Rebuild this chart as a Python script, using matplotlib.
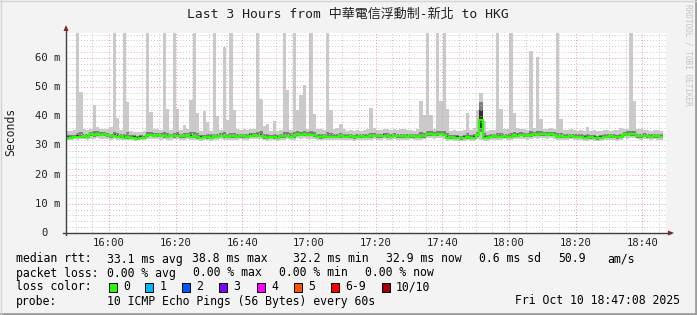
import numpy as np
import matplotlib.pyplot as plt
from matplotlib.lines import Line2D
from matplotlib.patches import Polygon, Rectangle

# ---- data (ms), one value per 60 s step starting 15:47:08 ----
med = [32.7,32.6,32.8,33.0,32.9,33.2,33.0,33.8,33.6,33.9,33.7,33.8,33.5,33.1,33.3,33.0,33.2,32.7,32.8,32.6,
       32.7,32.2,32.7,32.6,33.5,33.7,33.4,33.5,33.3,33.2,33.0,33.3,33.2,33.4,33.1,33.2,33.5,33.0,33.2,32.8,
       32.7,32.9,32.8,32.6,33.1,33.0,33.3,33.1,32.9,33.2,33.1,33.0,33.2,33.1,32.9,33.4,33.5,33.3,33.4,32.8,
       32.6,32.9,32.8,32.7,33.2,33.1,33.3,33.0,33.2,33.8,33.6,33.9,33.7,33.6,33.5,33.0,32.8,33.1,33.0,32.9,
       33.0,33.0,33.2,32.9,33.0,33.1,32.8,33.0,33.1,32.9,33.0,33.2,33.3,33.1,33.2,33.4,33.2,33.0,33.3,33.2,
       33.1,33.1,33.0,33.2,33.1,32.9,33.1,33.2,33.8,33.9,33.7,33.8,34.0,33.7,32.7,32.8,32.6,32.7,32.5,32.7,
       32.8,32.6,32.7,33.5,38.8,32.7,32.6,33.0,33.1,32.9,33.0,33.2,33.0,32.9,33.5,33.4,33.6,33.5,33.3,33.5,
       33.8,33.7,33.9,33.8,33.6,33.8,33.7,33.0,33.1,32.9,33.0,33.2,33.0,32.9,33.0,32.7,32.6,32.8,32.7,32.5,
       32.7,33.0,32.9,33.1,33.0,32.8,33.0,33.8,33.7,33.9,33.8,33.2,33.1,33.3,33.2,33.0,33.2,33.1,32.9]

ping_max = [34.8,35.0,35.2,75,48.3,35.6,35.4,35.8,43.9,36.2,35.6,35.8,35.5,36.5,75,39.5,35.2,75,45.0,34.8,
            34.6,34.7,34.5,35.0,75,41.6,35.8,35.6,35.4,75,42.5,35.3,75,42.5,35.2,37.0,35.5,45.6,75,41.2,
            35.0,41.9,38.2,35.0,75,40.1,35.4,63.9,38.9,75,42.2,35.5,35.3,35.6,35.2,35.5,35.7,75,45.9,36.6,
            37.3,35.0,38.4,35.0,35.3,75,49.0,35.4,75,42.2,47.3,50.7,35.8,75,40.8,35.8,35.6,35.2,75,42.2,
            35.8,36.0,37.3,35.6,35.0,35.2,35.0,35.3,35.1,35.4,35.6,42.9,36.0,35.4,35.2,35.6,35.5,35.2,35.6,35.4,
            35.5,35.5,35.2,35.3,35.1,35.6,45.4,40.6,75,40.3,35.8,75,45.4,75,42.6,35.0,35.2,34.8,35.0,35.2,
            41.1,35.4,36.0,42.1,48.0,38.4,35.0,35.3,35.4,75,42.4,35.6,35.5,75,41.1,36.0,35.8,35.6,35.4,62.5,
            36.0,60.3,39.2,35.8,35.6,36.0,35.5,75,39.0,35.4,35.3,35.5,35.2,35.0,35.2,35.0,36.3,35.0,35.2,34.8,
            35.0,35.2,35.2,35.0,35.3,35.4,36.0,35.5,35.8,75,45.4,35.5,35.6,35.2,35.3,35.0,35.4,35.2,34.9]

ping_min = [32.0,31.9,32.1,32.0,32.2,32.1,32.0,32.3,32.2,32.4,32.3,32.2,32.1,32.0,32.1,31.9,32.0,31.8,31.9,31.8,
            31.7,31.8,31.9,31.8,32.2,32.3,32.1,32.2,32.0,32.1,31.9,32.0,32.2,32.1,32.0,31.9,32.2,31.8,32.0,31.8,
            31.7,31.9,31.8,31.7,32.0,31.9,32.1,32.0,31.8,32.0,32.0,31.9,32.1,32.0,31.8,32.2,32.3,32.1,32.2,31.8,
            31.7,31.9,31.8,31.7,32.0,32.0,32.1,31.9,32.0,32.4,32.3,32.5,32.3,32.2,32.2,31.9,31.8,32.0,31.9,31.8,
            31.9,31.9,32.0,31.8,31.9,32.0,31.7,31.9,32.0,31.8,31.9,32.0,32.1,32.0,32.0,32.2,32.0,31.9,32.1,32.0,
            32.0,32.0,31.9,32.1,32.0,31.8,32.0,32.1,32.4,32.5,32.3,32.4,32.6,32.3,31.7,31.8,31.6,31.7,31.5,31.7,
            31.8,31.6,31.7,32.2,32.0,31.7,31.6,31.9,32.0,31.8,31.9,32.1,31.9,31.8,32.2,32.1,32.3,32.2,32.0,32.2,
            32.4,32.3,32.5,32.4,32.2,32.4,32.3,31.9,32.0,31.8,31.9,32.1,31.9,31.8,31.9,31.7,31.6,31.8,31.7,31.5,
            31.7,31.9,31.8,32.0,31.9,31.7,31.9,32.4,32.3,32.5,32.4,32.1,32.0,32.2,32.1,31.9,32.1,32.0,31.8]

ping_q1 = [32.3,32.2,32.4,32.5,32.4,32.7,32.5,33.2,33.0,33.3,33.1,33.2,32.9,32.6,32.8,32.5,32.7,32.2,32.3,32.1,
           32.2,32.0,32.2,32.1,33.0,33.1,32.9,33.0,32.8,32.7,32.5,32.8,32.7,32.9,32.6,32.7,33.0,32.5,32.7,32.3,
           32.2,32.4,32.3,32.1,32.6,32.5,32.8,32.6,32.4,32.7,32.6,32.5,32.7,32.6,32.4,32.9,33.0,32.8,32.9,32.3,
           32.1,32.4,32.3,32.2,32.7,32.6,32.8,32.5,32.7,33.3,33.1,33.4,33.2,33.1,33.0,32.5,32.3,32.6,32.5,32.4,
           32.5,32.5,32.7,32.4,32.5,32.6,32.3,32.5,32.6,32.4,32.5,32.7,32.8,32.6,32.7,32.9,32.7,32.5,32.8,32.7,
           32.6,32.6,32.5,32.7,32.6,32.4,32.6,32.7,33.3,33.4,33.2,33.3,33.5,33.2,32.2,32.3,32.1,32.2,32.0,32.2,
           32.3,32.1,32.2,33.0,34.5,32.2,32.1,32.5,32.6,32.4,32.5,32.7,32.5,32.4,33.0,32.9,33.1,33.0,32.8,33.0,
           33.3,33.2,33.4,33.3,33.1,33.3,33.2,32.5,32.6,32.4,32.5,32.7,32.5,32.4,32.5,32.2,32.1,32.3,32.2,32.0,
           32.2,32.5,32.4,32.6,32.5,32.3,32.5,33.3,33.2,33.4,33.3,32.7,32.6,32.8,32.7,32.5,32.7,32.6,32.4]

ping_q3 = [33.6,33.5,33.7,34.2,34.6,34.1,33.9,34.6,34.8,34.9,34.5,34.7,34.3,34.0,34.6,34.3,34.0,34.0,34.5,33.5,
           33.5,33.4,33.5,33.4,34.6,34.7,34.3,34.4,34.2,34.5,34.3,34.1,34.4,34.5,34.0,34.3,34.3,34.5,34.6,34.4,
           33.7,33.6,33.9,33.8,33.9,33.9,34.2,34.6,33.9,34.4,34.2,33.9,34.1,34.0,33.8,34.3,34.4,34.6,34.8,33.8,
           33.8,33.6,34.0,33.7,34.0,34.6,34.5,34.2,34.5,34.8,34.7,35.0,34.6,34.9,34.7,34.0,33.8,34.0,34.5,34.3,
           33.9,34.0,34.3,33.8,33.9,34.0,33.7,33.9,34.0,33.8,33.9,34.4,34.2,34.0,34.1,34.3,34.2,33.9,34.2,34.1,
           34.0,34.0,33.9,34.1,34.0,33.8,34.5,34.4,35.0,34.9,34.6,35.0,35.1,35.0,34.2,33.6,33.7,33.5,33.4,33.6,
           34.2,33.6,33.8,34.5,45.0,34.2,33.5,33.9,34.0,34.4,34.3,34.1,33.9,34.4,34.5,34.4,34.5,34.4,34.2,34.9,
           34.7,34.9,34.8,34.7,34.5,34.7,34.6,34.4,34.3,33.8,33.9,34.1,33.9,33.8,33.9,33.6,34.0,33.7,33.6,33.4,
           33.6,33.8,34.0,33.9,33.8,33.6,34.0,34.7,34.8,35.0,34.9,34.1,34.0,34.2,34.1,33.9,34.1,34.0,33.8]

core_lo = [32.5,32.4,32.6,32.8,32.7,33.0,32.8,33.5,33.3,33.6,33.4,33.5,33.2,32.9,33.0,32.8,33.0,32.5,32.6,32.4,
           32.5,32.0,32.5,32.4,33.3,33.4,33.2,33.3,33.1,33.0,32.8,33.1,33.0,33.2,32.9,33.0,33.3,32.8,33.0,32.6,
           32.5,32.7,32.6,32.4,32.9,32.8,33.1,32.9,32.7,33.0,32.9,32.8,33.0,32.9,32.7,33.2,33.3,33.1,33.2,32.6,
           32.4,32.7,32.6,32.5,33.0,32.9,33.1,32.8,33.0,33.6,33.4,33.7,33.5,33.4,33.3,32.8,32.6,32.9,32.8,32.7,
           32.8,32.8,33.0,32.7,32.8,32.9,32.6,32.8,32.9,32.7,32.8,33.0,33.1,32.9,33.0,33.2,33.0,32.8,33.1,33.0,
           32.9,32.9,32.8,33.0,32.9,32.7,32.9,33.0,33.6,33.7,33.5,33.6,33.8,33.5,32.5,32.6,32.4,32.5,32.3,32.5,
           32.6,32.4,32.5,33.3,36.0,32.5,32.4,32.8,32.9,32.7,32.8,33.0,32.8,32.7,33.3,33.2,33.4,33.3,33.1,33.3,
           33.6,33.5,33.7,33.6,33.4,33.6,33.5,32.8,32.9,32.7,32.8,33.0,32.8,32.7,32.8,32.5,32.4,32.6,32.5,32.3,
           32.5,32.8,32.7,32.9,32.8,32.6,32.8,33.6,33.5,33.7,33.6,33.0,32.9,33.1,33.0,32.8,33.0,32.9,32.7]

core_hi = [33.1,33.0,33.2,33.5,33.4,33.6,33.4,34.2,34.1,34.3,34.1,34.2,33.9,33.6,33.8,33.5,33.6,33.2,33.3,33.0,
           33.1,32.8,33.1,33.0,33.9,34.1,33.8,33.9,33.7,33.7,33.4,33.7,33.6,33.9,33.5,33.7,34.0,33.5,33.6,33.2,
           33.1,33.3,33.2,33.0,33.5,33.4,33.7,33.6,33.3,33.6,33.5,33.4,33.6,33.5,33.3,33.8,33.9,33.7,33.8,33.2,
           33.0,33.3,33.2,33.1,33.6,33.5,33.7,33.4,33.6,34.2,34.0,34.3,34.1,34.0,33.9,33.4,33.2,33.5,33.4,33.3,
           33.4,33.4,33.6,33.3,33.4,33.5,33.2,33.4,33.5,33.3,33.4,33.6,33.7,33.5,33.6,33.8,33.6,33.4,33.7,33.6,
           33.5,33.5,33.4,33.6,33.5,33.3,33.5,33.6,34.2,34.3,34.1,34.2,34.4,34.1,33.1,33.2,33.0,33.1,32.9,33.1,
           33.2,33.0,33.1,33.9,42.0,33.1,33.0,33.4,33.5,33.3,33.4,33.6,33.4,33.3,33.9,33.8,34.0,33.9,33.7,33.9,
           34.2,34.1,34.3,34.2,34.0,34.2,34.1,33.4,33.5,33.3,33.4,33.6,33.4,33.3,33.4,33.1,33.0,33.2,33.1,32.9,
           33.1,33.4,33.3,33.5,33.4,33.2,33.4,34.2,34.1,34.3,34.2,33.6,33.5,33.7,33.6,33.4,33.6,33.5,33.3]

x_labels = ["16:00", "16:20", "16:40", "17:00", "17:20", "17:40", "18:00", "18:20", "18:40"]
y_labels = ["0", "10 m", "20 m", "30 m", "40 m", "50 m", "60 m"]

loss_names = ["0", "1", "2", "3", "4", "5", "6-9", "10/10"]
loss_colors = ["#26ff00", "#00b8ff", "#0059ff", "#7e00ff", "#ff00ff", "#ff5500", "#ff0000", "#a00000"]

rtt_stats = ["33.1 ms avg", "38.8 ms max", "32.2 ms min", "32.9 ms now", "0.6 ms sd", "50.9", "am/s"]
loss_stats = ["0.00 % avg", "0.00 % max", "0.00 % min", "0.00 % now"]

W, H = 697, 315
MONO = "DejaVu Sans Mono"

def fx(x):
    return x / W

def fy(y):
    return 1 - y / H

fig = plt.figure(figsize=(W / 100, H / 100), dpi=100)
fig.patch.set_facecolor("#f3f3f3")

ax = fig.add_axes([fx(66), fy(233), 600 / W, 200 / H])
ax.set_facecolor("white")
ymax = 68.57
ax.set_xlim(0, 180)
ax.set_ylim(0, ymax)
for s in ax.spines.values():
    s.set_visible(False)
ax.set_xticks([])
ax.set_yticks([])

# smoke
n = len(med)
xs = np.arange(n + 1)
def ext(a):
    a = np.asarray(a, dtype=float)
    return np.append(a, a[-1])

ax.fill_between(xs, ext(ping_min), ext(ping_max), step="post", color="#cacaca", lw=0, zorder=1)
ax.fill_between(xs, ext(ping_q1), ext(ping_q3), step="post", color="#7e7e7e", lw=0, zorder=2)
ax.fill_between(xs, ext(core_lo), ext(core_hi), step="post", color="#323232", lw=0, zorder=3)

# grid: minutes from 15:47:08
t0 = 47 + 8 / 60.0
minor_x = [m - t0 for m in range(50, 230, 5)]
major_x = [m - t0 for m in range(60, 230, 20)]
for x in minor_x:
    if x not in major_x and x < 180:
        ax.axvline(x, color="#c8c8c8", lw=0.7, ls=(0, (1, 2)), zorder=4)
for y in np.arange(2, ymax, 2):
    if y % 10:
        ax.axhline(y, color="#c8c8c8", lw=0.7, ls=(0, (1, 2)), zorder=4)
for x in major_x:
    if x < 180:
        ax.axvline(x, color="#e89a9a", lw=0.7, ls=(0, (1, 2)), zorder=4)
for y in range(10, 70, 10):
    ax.axhline(y, color="#e89a9a", lw=0.7, ls=(0, (1, 2)), zorder=4)

# median
ax.step(xs, ext(med), where="post", color="#26ff00", lw=1.6, zorder=5, solid_capstyle="butt")

# axes lines + arrows
fig.add_artist(Line2D([fx(66), fx(66)], [fy(235), fy(28)], color="#404040", lw=1))
fig.add_artist(Line2D([fx(63), fx(671)], [fy(233), fy(233)], color="#404040", lw=1))
fig.add_artist(Polygon([[fx(63.5), fy(31)], [fx(68.5), fy(31)], [fx(66), fy(25)]], closed=True,
                       color="#9e1a1a", lw=0))
fig.add_artist(Polygon([[fx(668), fy(230.5)], [fx(668), fy(235.5)], [fx(674), fy(233)]], closed=True,
                       color="#9e1a1a", lw=0))

# axis labels
for k, lab in enumerate(x_labels):
    xpos = 66 + (major_x[k]) * 600 / 180
    fig.text(fx(xpos), fy(243), lab, family=MONO, size=7.6, ha="center", va="center", color="#202020")
for k, lab in enumerate(y_labels):
    ypos = 233 - k * 10 * 200 / ymax
    xr = 47.5 if lab == "0" else 60.5
    fig.text(fx(xr), fy(ypos), lab, family=MONO, size=7.6, ha="right", va="center", color="#202020")
fig.text(fx(10.5), fy(132), "Seconds", family=MONO, size=8.3, rotation=90, ha="center", va="center",
         color="#202020")

# title
fig.text(fx(348), fy(14), "Last 3 Hours from 中華電信浮動制-新北 to HKG",
         family=[MONO, "Noto Sans CJK TC"], size=9.4, ha="center", va="center", color="#202020")
fig.text(fx(688), fy(4), "RRDTOOL / TOBI OETIKER", family=MONO, size=5.6, rotation=-90,
         ha="center", va="top", color="#c4c4c4")

# legend
LS = 8.3
fig.text(fx(16), fy(259), "median rtt:", family=MONO, size=LS, va="center")
for xp, s in zip([107, 192.5, 293, 386, 479, 558, 607], rtt_stats):
    fig.text(fx(xp), fy(259), s, family=MONO, size=LS, va="center")
fig.text(fx(16), fy(273), "packet loss:", family=MONO, size=LS, va="center")
for xp, s in zip([107, 193, 279, 365], loss_stats):
    fig.text(fx(xp), fy(273), s, family=MONO, size=LS, va="center")
fig.text(fx(16), fy(287), "loss color:", family=MONO, size=LS, va="center")
box_x = [108.5, 145, 182, 219, 256.5, 293.5, 330.5, 381.5]
for bx, name, col in zip(box_x, loss_names, loss_colors):
    fig.add_artist(Rectangle((fx(bx), fy(291.5)), 8 / W, 9 / H, facecolor=col,
                             edgecolor="black", lw=0.7))
    fig.text(fx(bx + 14.5), fy(287), name, family=MONO, size=LS, va="center")
fig.text(fx(16), fy(301), "probe:", family=MONO, size=LS, va="center")
fig.text(fx(107), fy(301), "10 ICMP Echo Pings (56 Bytes) every 60s", family=MONO, size=LS, va="center")
fig.text(fx(680), fy(301), "Fri Oct 10 18:47:08 2025", family=MONO, size=LS, va="center", ha="right")

# frame
fig.add_artist(Line2D([0, 1], [fy(314), fy(314)], color="#9c9c9c", lw=2))
fig.add_artist(Line2D([fx(696), fx(696)], [0, 1], color="#9c9c9c", lw=2))
fig.add_artist(Line2D([0, 1], [fy(0.5), fy(0.5)], color="#d4d4d4", lw=1))
fig.add_artist(Line2D([fx(0.5), fx(0.5)], [0, 1], color="#d4d4d4", lw=1))

fig.savefig("out.png", dpi=100, facecolor=fig.get_facecolor())
